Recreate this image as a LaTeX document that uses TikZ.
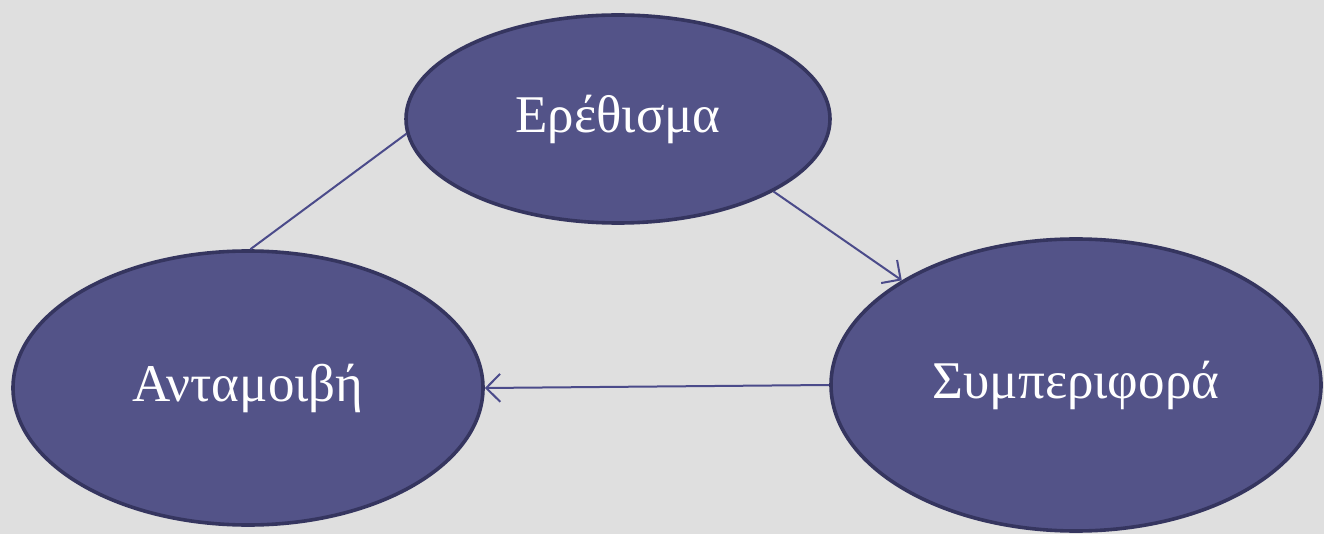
\documentclass[tikz,border=0pt]{standalone}
\usepackage{fontspec}
\setmainfont{Liberation Serif}
\usetikzlibrary{shapes.geometric,arrows.meta}
\definecolor{bgGrey}{HTML}{DFDFDF}
\definecolor{ovalFill}{HTML}{535388}
\definecolor{ovalEdge}{HTML}{35355F}
\definecolor{linkCol}{HTML}{4B4B8A}
\tikzset{
  oval/.style={ellipse, draw=ovalEdge, line width=3.6pt, fill=ovalFill,
    inner sep=0pt, text=white, font=\fontsize{53}{60}\selectfont},
  link/.style={draw=linkCol, line width=2pt},
  tip/.style={-{Straight Barb[length=14pt, width=28pt, line width=2pt]}}
}
\begin{document}
\begin{tikzpicture}[x=1pt, y=-1pt]
  \fill[bgGrey] (0,0) rectangle (1324,534);
  \useasboundingbox (0,0) rectangle (1324,534);
  \node[oval, minimum width=424pt, minimum height=208pt] (stim) at (618,119) {Ερέθισμα};
  \node[oval, minimum width=470pt, minimum height=274pt] (rew) at (248,388) {Ανταμοιβή};
  \node[oval, minimum width=490pt, minimum height=292pt] (beh) at (1076,385) {Συμπεριφορά};
  \draw[link] (stim.184) -- (rew.89);
  \draw[link, tip] (stim.-25) -- (beh.149);
  \draw[link, tip] (beh.180) -- (rew.0);
\end{tikzpicture}
\end{document}
